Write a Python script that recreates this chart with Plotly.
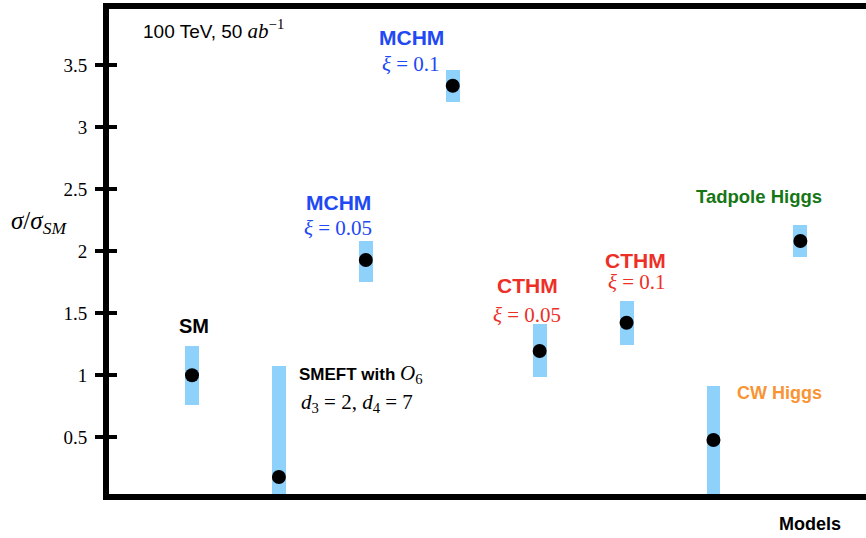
import plotly.graph_objects as go

# models along the x axis, left to right
models = ["SM", "SMEFT", "MCHM 0.05", "MCHM 0.1", "CTHM 0.05", "CTHM 0.1", "CW Higgs", "Tadpole Higgs"]
xpos = [1, 2, 3, 4, 5, 6, 7, 8]
ratio = [1.0, 0.18, 1.93, 3.335, 1.196, 1.424, 0.478, 2.083]
band_lo = [0.76, 0.0, 1.755, 3.202, 0.984, 1.244, 0.0, 1.956]
band_hi = [1.235, 1.075, 2.085, 3.462, 1.41, 1.60, 0.91, 2.212]

yticks = [0.5, 1, 1.5, 2, 2.5, 3, 3.5]
ticktext = ["0.5", "1", "1.5", "2", "2.5", "3", "3.5"]

SANS = "Liberation Sans, Arial, sans-serif"
SERIF = "Liberation Serif, Times New Roman, serif"
BLUE = "rgb(32,72,243)"
RED = "rgb(236,48,40)"
GREEN = "rgb(22,118,22)"
ORANGE = "rgb(248,148,52)"

fig = go.Figure()
fig.add_trace(go.Bar(
    x=xpos,
    y=[h - l for h, l in zip(band_hi, band_lo)],
    base=band_lo,
    width=0.16,
    marker=dict(color="rgb(142,209,251)", line=dict(width=0)),
    hoverinfo="skip",
    showlegend=False))
fig.add_trace(go.Scatter(
    x=xpos, y=ratio, mode="markers",
    marker=dict(color="black", size=14),
    text=models,
    showlegend=False))
# invisible copy on the overlay axis, so the inner half of the ticks gets drawn
fig.add_trace(go.Scatter(
    x=xpos, y=ratio, mode="markers", yaxis="y2",
    marker=dict(opacity=0), hoverinfo="skip", showlegend=False))


def serif_span(size):
    return f"<span style='font-family:{SERIF};font-size:{size}px'>"


annots = [
    # (x, y, text, xanchor, family, size, color)
    (0.41, 3.79, f"100 TeV, 50 {serif_span(21)}<i>ab</i><sup>−1</sup></span>", "left", SANS, 19, "black"),
    (3.52, 3.725, "<b>MCHM</b>", "center", SANS, 21, BLUE),
    (3.52, 3.51, "<i>ξ</i> = 0.1", "center", SERIF, 21, BLUE),
    (2.69, 2.397, "<b>MCHM</b>", "center", SANS, 21, BLUE),
    (2.68, 2.19, "<i>ξ</i> = 0.05", "center", SERIF, 21, BLUE),
    (1.02, 1.40, "<b>SM</b>", "center", SANS, 20, "black"),
    (2.21, 1.01, f"<b>SMEFT with</b> {serif_span(21)}<i>O</i><sub>6</sub></span>", "left", SANS, 17, "black"),
    (2.23, 0.78, "<i>d</i><sub>3</sub> = 2, <i>d</i><sub>4</sub> = 7", "left", SERIF, 21, "black"),
    (4.86, 1.727, "<b>CTHM</b>", "center", SANS, 21, RED),
    (4.86, 1.49, "<i>ξ</i> = 0.05", "center", SERIF, 21, RED),
    (6.1, 1.924, "<b>CTHM</b>", "center", SANS, 21, RED),
    (6.12, 1.75, "<i>ξ</i> = 0.1", "center", SERIF, 21, RED),
    (7.52, 2.44, "<b>Tadpole Higgs</b>", "center", SANS, 18.5, GREEN),
    (7.76, 0.854, "<b>CW Higgs</b>", "center", SANS, 18, ORANGE),
]

annotations = []
for ax_x, ax_y, txt, anchor, fam, size, color in annots:
    annotations.append(dict(x=ax_x, y=ax_y, xref="x", yref="y", text=txt,
                            showarrow=False, xanchor=anchor, yanchor="middle",
                            font=dict(family=fam, size=size, color=color)))

# paper coords are relative to the plot area (109..866 x 9..494 px)
annotations.append(dict(x=-0.093, y=0.56, xref="paper", yref="paper",
                        text="<i>σ</i>/<i>σ</i><sub><i>SM</i></sub>",
                        font=dict(family=SERIF, size=25, color="black"),
                        showarrow=False, xanchor="center", yanchor="middle"))
annotations.append(dict(x=0.969, y=-0.062, xref="paper", yref="paper",
                        text="<b>Models</b>", showarrow=False,
                        font=dict(family=SANS, size=18, color="black"),
                        xanchor="right", yanchor="middle"))

fig.update_layout(
    width=866, height=538,
    margin=dict(l=109, r=0, t=9, b=44),
    plot_bgcolor="white", paper_bgcolor="white",
    font=dict(color="black"),
    bargap=0,
    annotations=annotations,
    xaxis=dict(range=[0.045, 8.755], showgrid=False, zeroline=False,
               showticklabels=False, ticks="", showline=True, linewidth=6,
               linecolor="black", mirror=True),
    yaxis=dict(range=[0.043, 3.954], showgrid=False, zeroline=False,
               tickvals=yticks, ticktext=ticktext,
               ticks="outside", ticklen=8, tickwidth=4, tickcolor="black",
               ticklabelstandoff=4,
               tickfont=dict(family=SERIF, size=19, color="black"),
               showline=True, linewidth=6, linecolor="black"),
    yaxis2=dict(range=[0.043, 3.954], overlaying="y", side="left",
                showgrid=False, zeroline=False, showticklabels=False,
                tickvals=yticks, ticks="inside", ticklen=8, tickwidth=4,
                tickcolor="black", showline=False),
)

fig.write_html("out.html", config={"displayModeBar": False},
               post_script="document.body.style.margin = '0';")
